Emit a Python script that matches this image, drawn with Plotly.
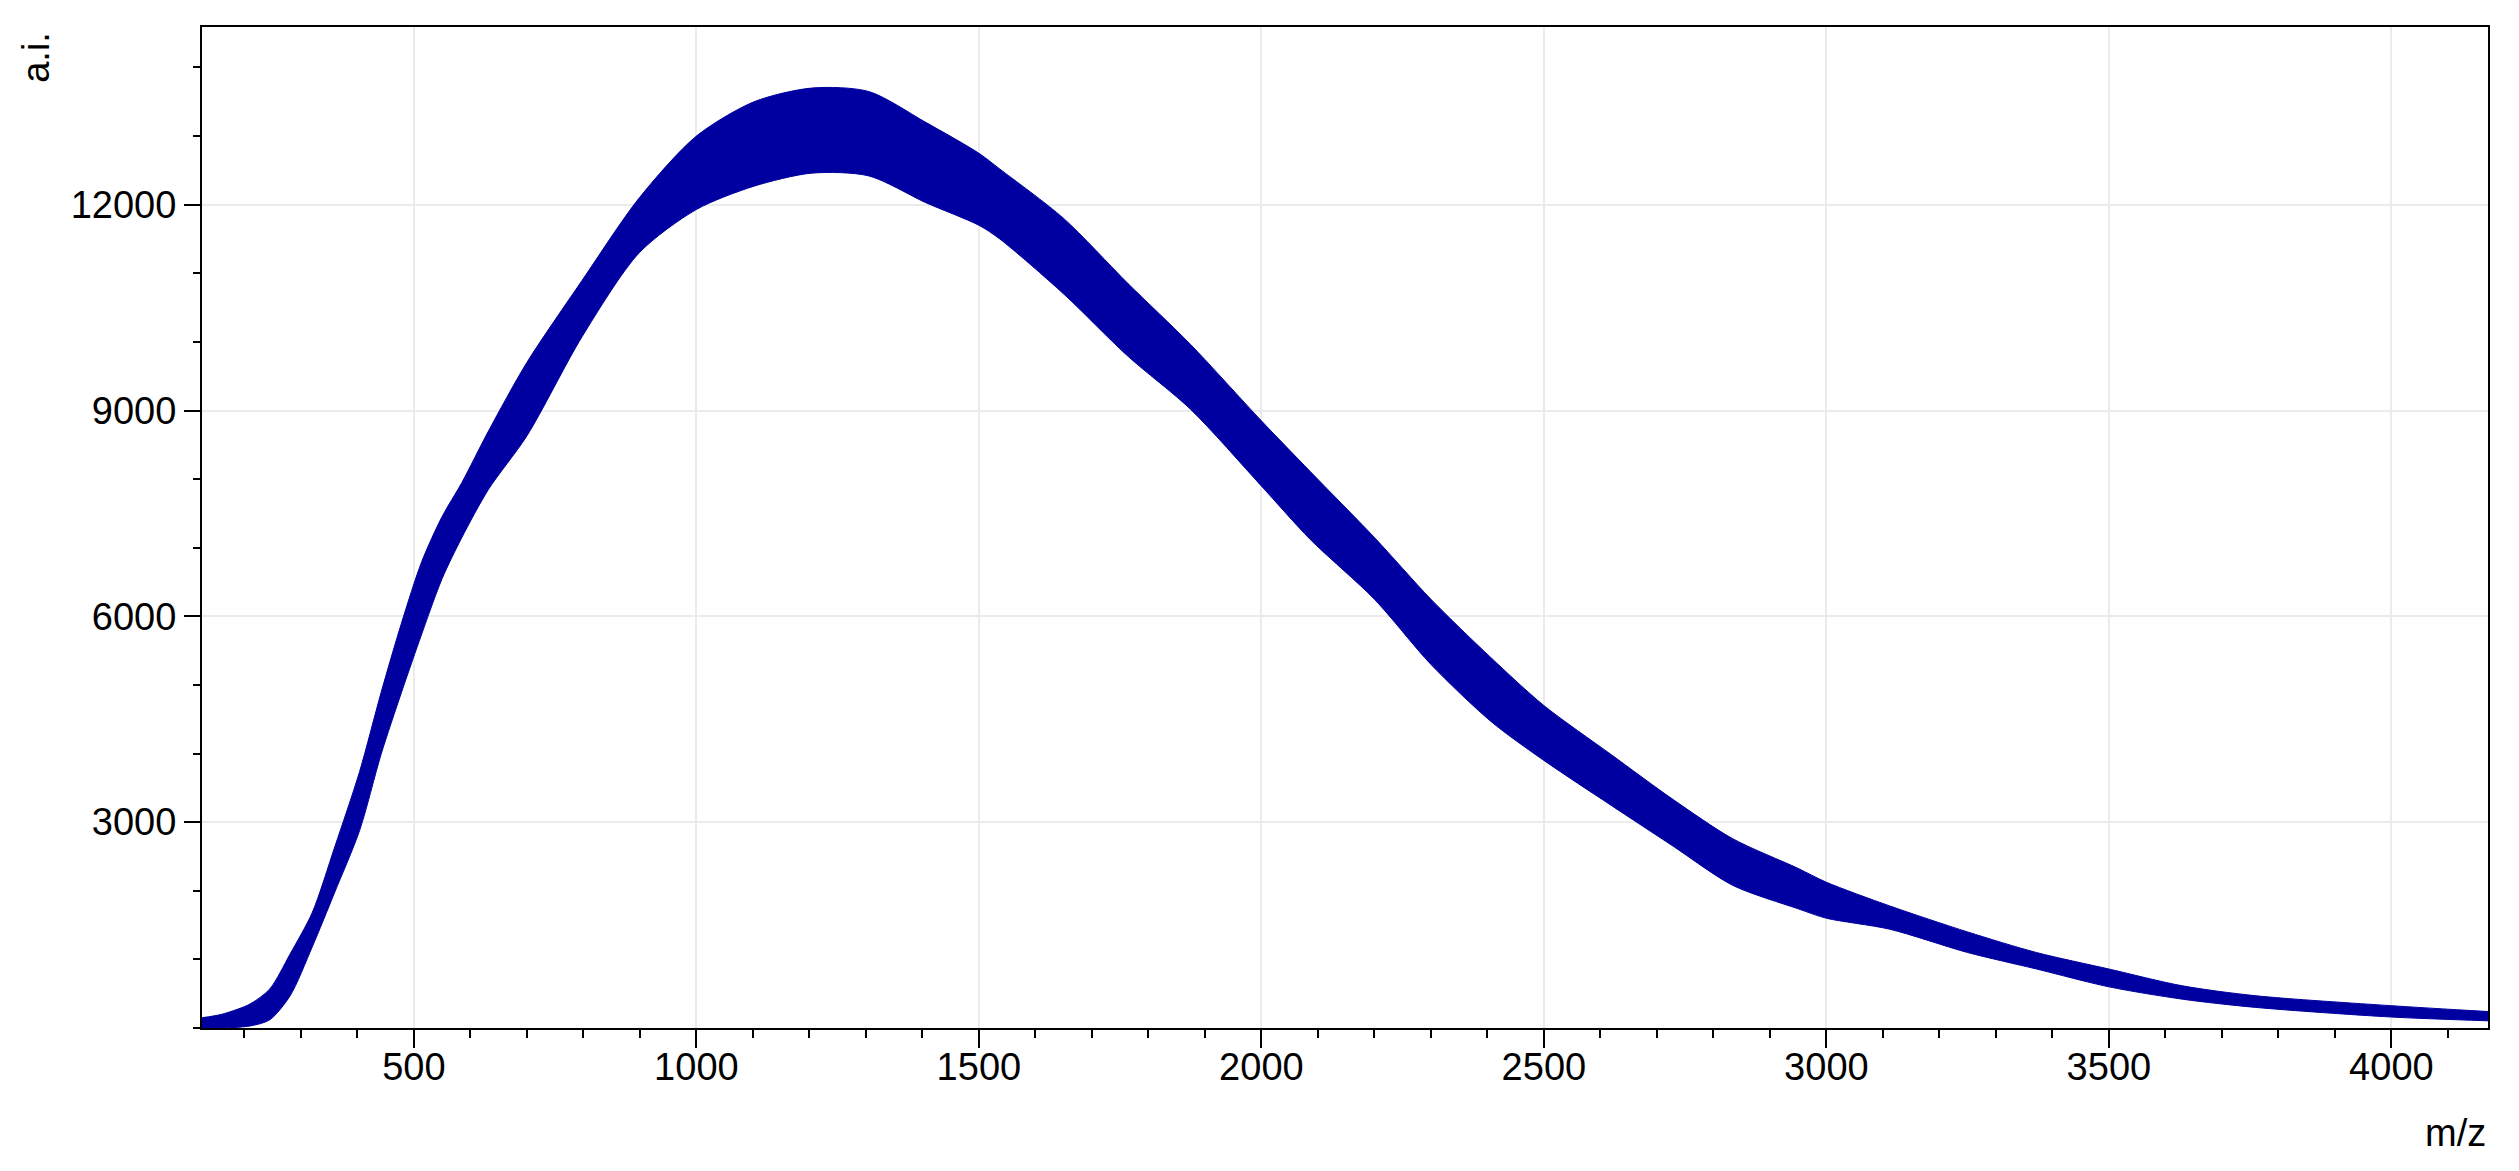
import plotly.graph_objects as go

# Spektrum-Band: obere und untere Huellkurve
mz = [125, 160, 210, 245, 281, 320, 360, 404, 442, 478, 514, 550, 585, 632,
      700, 798, 899, 1000, 1102, 1204, 1305, 1406, 1500, 1537, 1650, 1764,
      1875, 2000, 2086, 2200, 2300, 2406, 2500, 2620, 2727, 2834, 2949, 3000,
      3112, 3250, 3372, 3500, 3630, 3760, 4000, 4171]
upper = [150, 200, 350, 570, 1080, 1680, 2640, 3740, 4890, 5900, 6800, 7455,
         7950, 8700, 9700, 10900, 12100, 13000, 13500, 13700, 13650, 13200,
         12750, 12520, 11800, 10850, 9960, 8850, 8115, 7150, 6250, 5400, 4700,
         3980, 3340, 2760, 2330, 2125, 1780, 1400, 1100, 860, 615, 470, 325,
         240]
lower = [0, 0, 30, 120, 470, 1180, 1980, 2880, 3990, 4890, 5745, 6550, 7150,
         7850, 8630, 10080, 11300, 11930, 12270, 12460, 12420, 12030, 11700,
         11500, 10700, 9790, 9015, 7900, 7125, 6250, 5300, 4470, 3900, 3240,
         2660, 2080, 1740, 1600, 1440, 1100, 860, 600, 420, 300, 160, 105]

x_ticks = [500, 1000, 1500, 2000, 2500, 3000, 3500, 4000]
y_ticks = [3000, 6000, 9000, 12000]

BLUE = "#0000A0"
FONT = dict(family="Liberation Sans, Arial", size=38, color="black")

fig = go.Figure()
fig.add_trace(go.Scatter(x=mz, y=lower, mode="lines", hoverinfo="skip",
                         line=dict(color=BLUE, width=1, shape="spline",
                                   smoothing=0.8),
                         showlegend=False))
fig.add_trace(go.Scatter(x=mz, y=upper, mode="lines", fill="tonexty",
                         fillcolor=BLUE,
                         line=dict(color=BLUE, width=1, shape="spline",
                                   smoothing=0.8),
                         hoverinfo="skip", showlegend=False))

axis_common = dict(
    showline=True, linecolor="black", linewidth=2, mirror=True,
    ticks="outside", tickcolor="black", tickwidth=2,
    showgrid=True, gridcolor="#ebebeb", gridwidth=2,
    zeroline=False, tickfont=FONT, tickformat="d",
)

fig.update_xaxes(
    range=[125, 4171], tickvals=x_ticks, ticklen=18, ticklabelstandoff=-14,
    minor=dict(dtick=100, tick0=0, ticks="outside", ticklen=8,
               tickwidth=2, tickcolor="black", showgrid=False),
    **axis_common,
)
fig.update_yaxes(
    range=[0, 14590], tickvals=y_ticks, ticklen=16,
    minor=dict(dtick=1000, tick0=0, ticks="outside", ticklen=7,
               tickwidth=2, tickcolor="black", showgrid=False),
    **axis_common,
)

fig.add_annotation(text="a.i.", textangle=-90, xref="paper", yref="paper",
                   x=-0.083, y=0.997, xanchor="left", yanchor="top",
                   showarrow=False, font=FONT)
fig.add_annotation(text="m/z", xref="paper", yref="paper",
                   x=1.0, y=-0.105, xanchor="right", yanchor="middle",
                   showarrow=False, font=FONT)

fig.update_layout(
    width=2519, height=1171,
    margin=dict(l=202, r=31, t=27, b=143),
    plot_bgcolor="white", paper_bgcolor="white",
)

fig.write_html("out.html", config={"displayModeBar": False},
               post_script="document.body.style.margin='0px';")
